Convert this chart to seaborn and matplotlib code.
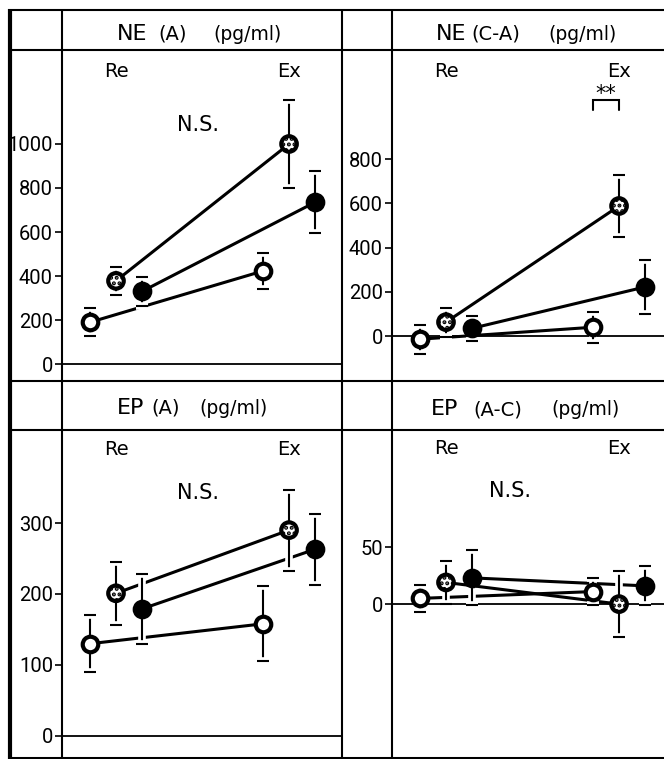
import numpy as np
import pandas as pd
import matplotlib
matplotlib.use("Agg")
import matplotlib.pyplot as plt
import matplotlib.patheffects as pe
import matplotlib.transforms as mtrans
import seaborn as sns

# ---------------- data ----------------
periods = ["Re", "Ex"]
series = ["open", "dotted", "filled"]

# NE (A)
ne_a_open = [190, 423]
ne_a_open_err = [64, 82]
ne_a_dotted = [378, 1000]
ne_a_dotted_err = [62, 200]
ne_a_filled = [330, 735]
ne_a_filled_err = [65, 140]
ne_a_ticks = [0, 200, 400, 600, 800, 1000]

# NE (C-A)
ne_ca_open = [-14, 40]
ne_ca_open_err = [65, 70]
ne_ca_dotted = [63, 588]
ne_ca_dotted_err = [65, 138]
ne_ca_filled = [35, 222]
ne_ca_filled_err = [58, 123]
ne_ca_ticks = [0, 200, 400, 600, 800]

# EP (A)
ep_a_open = [130, 158]
ep_a_open_err = [40, 53]
ep_a_dotted = [201, 290]
ep_a_dotted_err = [44, 57]
ep_a_filled = [179, 263]
ep_a_filled_err = [49, 50]
ep_a_ticks = [0, 100, 200, 300]

# EP (A-C)
ep_ac_open = [5, 11]
ep_ac_open_err = [12, 12]
ep_ac_dotted = [19, 0]
ep_ac_dotted_err = [19, 29]
ep_ac_filled = [23, 16]
ep_ac_filled_err = [24, 17]
ep_ac_ticks = [0, 50]

ne_a_title = ["NE", "(A)", "(pg/ml)"]
ne_ca_title = ["NE", "(C-A)", "(pg/ml)"]
ep_a_title = ["EP", "(A)", "(pg/ml)"]
ep_ac_title = ["EP", "(A-C)", "(pg/ml)"]
note_ns = "N.S."
note_sig = "**"

# ---------------- style ----------------
sns.set_theme(style="white")
plt.rcParams["font.family"] = ["DejaVu Sans"]
plt.rcParams["hatch.linewidth"] = 2.0
TICK_FONT = ["Roboto", "DejaVu Sans"]

W, H = 664, 759
fig = plt.figure(figsize=(W / 100, H / 100), dpi=100)
fig.patch.set_facecolor("white")

DODGE = 0.15
XLIM = (-0.312, 1.306)


def px_axes(left, top, right, bottom):
    return fig.add_axes([left / W, 1 - bottom / H, (right - left) / W, (bottom - top) / H])


def draw_panel(ax, vals, errs, ticks, ylim, re_ex_y):
    rows = []
    for si, s in enumerate(series):
        for pi, p in enumerate(periods):
            rows.append(dict(series=s, period=p, x=pi + (si - 1) * DODGE,
                             value=vals[si][pi], err=errs[si][pi]))
    df = pd.DataFrame(rows)
    ax.axhline(0, color="black", lw=1.3, zorder=1)
    sns.lineplot(data=df, x="x", y="value", hue="series",
                 palette={s: "black" for s in series}, legend=False,
                 lw=2.2, ax=ax, zorder=2, sort=False)
    halo = [pe.Stroke(linewidth=5.5, foreground="white"), pe.Normal()]
    styles = {
        "open": dict(facecolor="white", hatch=None),
        "dotted": dict(facecolor="white", hatch="..."),
        "filled": dict(facecolor="black", hatch=None),
    }
    for s in series:
        d = df[df.series == s]
        eb = ax.errorbar(d.x, d.value, yerr=d.err, fmt="none", ecolor="black",
                         elinewidth=1.5, capsize=4.5, capthick=1.5, zorder=3)
        for c in eb.lines[2]:
            c.set_path_effects(halo)
        for c in eb.lines[1]:
            c.set_path_effects(halo)
    for s in series:
        d = df[df.series == s]
        st = styles[s]
        ax.scatter(d.x, d.value, s=125, facecolor=st["facecolor"],
                   edgecolor="black", linewidths=3.0, hatch=st["hatch"], zorder=4)
    ax.set_xlim(*XLIM)
    ax.set_ylim(*ylim)
    ax.set_yticks(ticks)
    ax.set_yticklabels([str(t) for t in ticks], family=TICK_FONT, fontsize=14.5)
    ax.set_xticks([])
    ax.set_xlabel("")
    ax.set_ylabel("")
    ax.tick_params(axis="y", direction="out", length=5, width=1.2, pad=1.5,
                   colors="black", left=True)
    for sp in ax.spines.values():
        sp.set_visible(False)
    ax.set_facecolor("none")
    tr = mtrans.blended_transform_factory(ax.transData, ax.transAxes)
    for pi, p in enumerate(periods):
        ax.text(pi, re_ex_y, p, transform=tr, ha="center", va="baseline",
                fontsize=14, color="black")
    return df, tr


panels = [
    dict(box=(62, 50, 342, 381),
         vals=[ne_a_open, ne_a_dotted, ne_a_filled],
         errs=[ne_a_open_err, ne_a_dotted_err, ne_a_filled_err],
         ticks=ne_a_ticks, ylim=(-77, 1427), rey=0.918, ns=(0.474, 0.755)),
    dict(box=(392, 50, 672, 381),
         vals=[ne_ca_open, ne_ca_dotted, ne_ca_filled],
         errs=[ne_ca_open_err, ne_ca_dotted_err, ne_ca_filled_err],
         ticks=ne_ca_ticks, ylim=(-203, 1293), rey=0.918, ns=None),
    dict(box=(62, 430, 342, 757),
         vals=[ep_a_open, ep_a_dotted, ep_a_filled],
         errs=[ep_a_open_err, ep_a_dotted_err, ep_a_filled_err],
         ticks=ep_a_ticks, ylim=(-29.6, 431), rey=0.924, ns=(0.474, 0.789)),
    dict(box=(392, 430, 672, 757),
         vals=[ep_ac_open, ep_ac_dotted, ep_ac_filled],
         errs=[ep_ac_open_err, ep_ac_dotted_err, ep_ac_filled_err],
         ticks=ep_ac_ticks, ylim=(-134, 152.6), rey=0.928, ns=(0.37, 0.795)),
]

for i, pnl in enumerate(panels):
    ax = px_axes(*pnl["box"])
    df, tr = draw_panel(ax, pnl["vals"], pnl["errs"], pnl["ticks"], pnl["ylim"], pnl["rey"])
    if pnl["ns"] is not None:
        ax.text(pnl["ns"][0], pnl["ns"][1], note_ns, transform=tr,
                ha="center", va="baseline", fontsize=15, color="black")
    else:
        # significance bracket between open and dotted at Ex
        x0 = df[(df.series == "open") & (df.period == "Ex")].x.iloc[0]
        x1 = df[(df.series == "dotted") & (df.period == "Ex")].x.iloc[0]
        ax.plot([x0, x0, x1, x1], [1023, 1068, 1068, 1023], color="black", lw=1.5,
                solid_joinstyle="miter", zorder=3)
        ax.text((x0 + x1) / 2, 1092, note_sig, ha="center", va="center",
                fontsize=15, color="black")

# ---------------- table frame & headers ----------------
ov = fig.add_axes([0, 0, 1, 1], zorder=10)
ov.set_xlim(0, W)
ov.set_ylim(H, 0)
ov.axis("off")
ov.patch.set_visible(False)
lw = 1.5
for y in [10, 50, 381, 430]:
    ov.plot([8, W], [y, y], color="black", lw=lw, solid_capstyle="butt")
ov.plot([8, W], [757.5, 757.5], color="black", lw=2.2, solid_capstyle="butt")
for x in [62, 342, 392]:
    ov.plot([x, x], [10, 759], color="black", lw=lw, solid_capstyle="butt")
ov.plot([9.5, 9.5], [9, 759], color="black", lw=3.0, solid_capstyle="butt")

headers = [
    (ne_a_title, [117, 158, 213], 40),
    (ne_ca_title, [436, 471, 548], 40),
    (ep_a_title, [117, 151, 199], 414),
    (ep_ac_title, [431, 473, 551], 415),
]
sizes = [16, 14, 13.5]
for pieces, xs, base in headers:
    for txt, x, fs in zip(pieces, xs, sizes):
        ov.text(x, base, txt, ha="left", va="baseline", fontsize=fs, color="black")

fig.savefig("out.png", dpi=100, facecolor="white")
